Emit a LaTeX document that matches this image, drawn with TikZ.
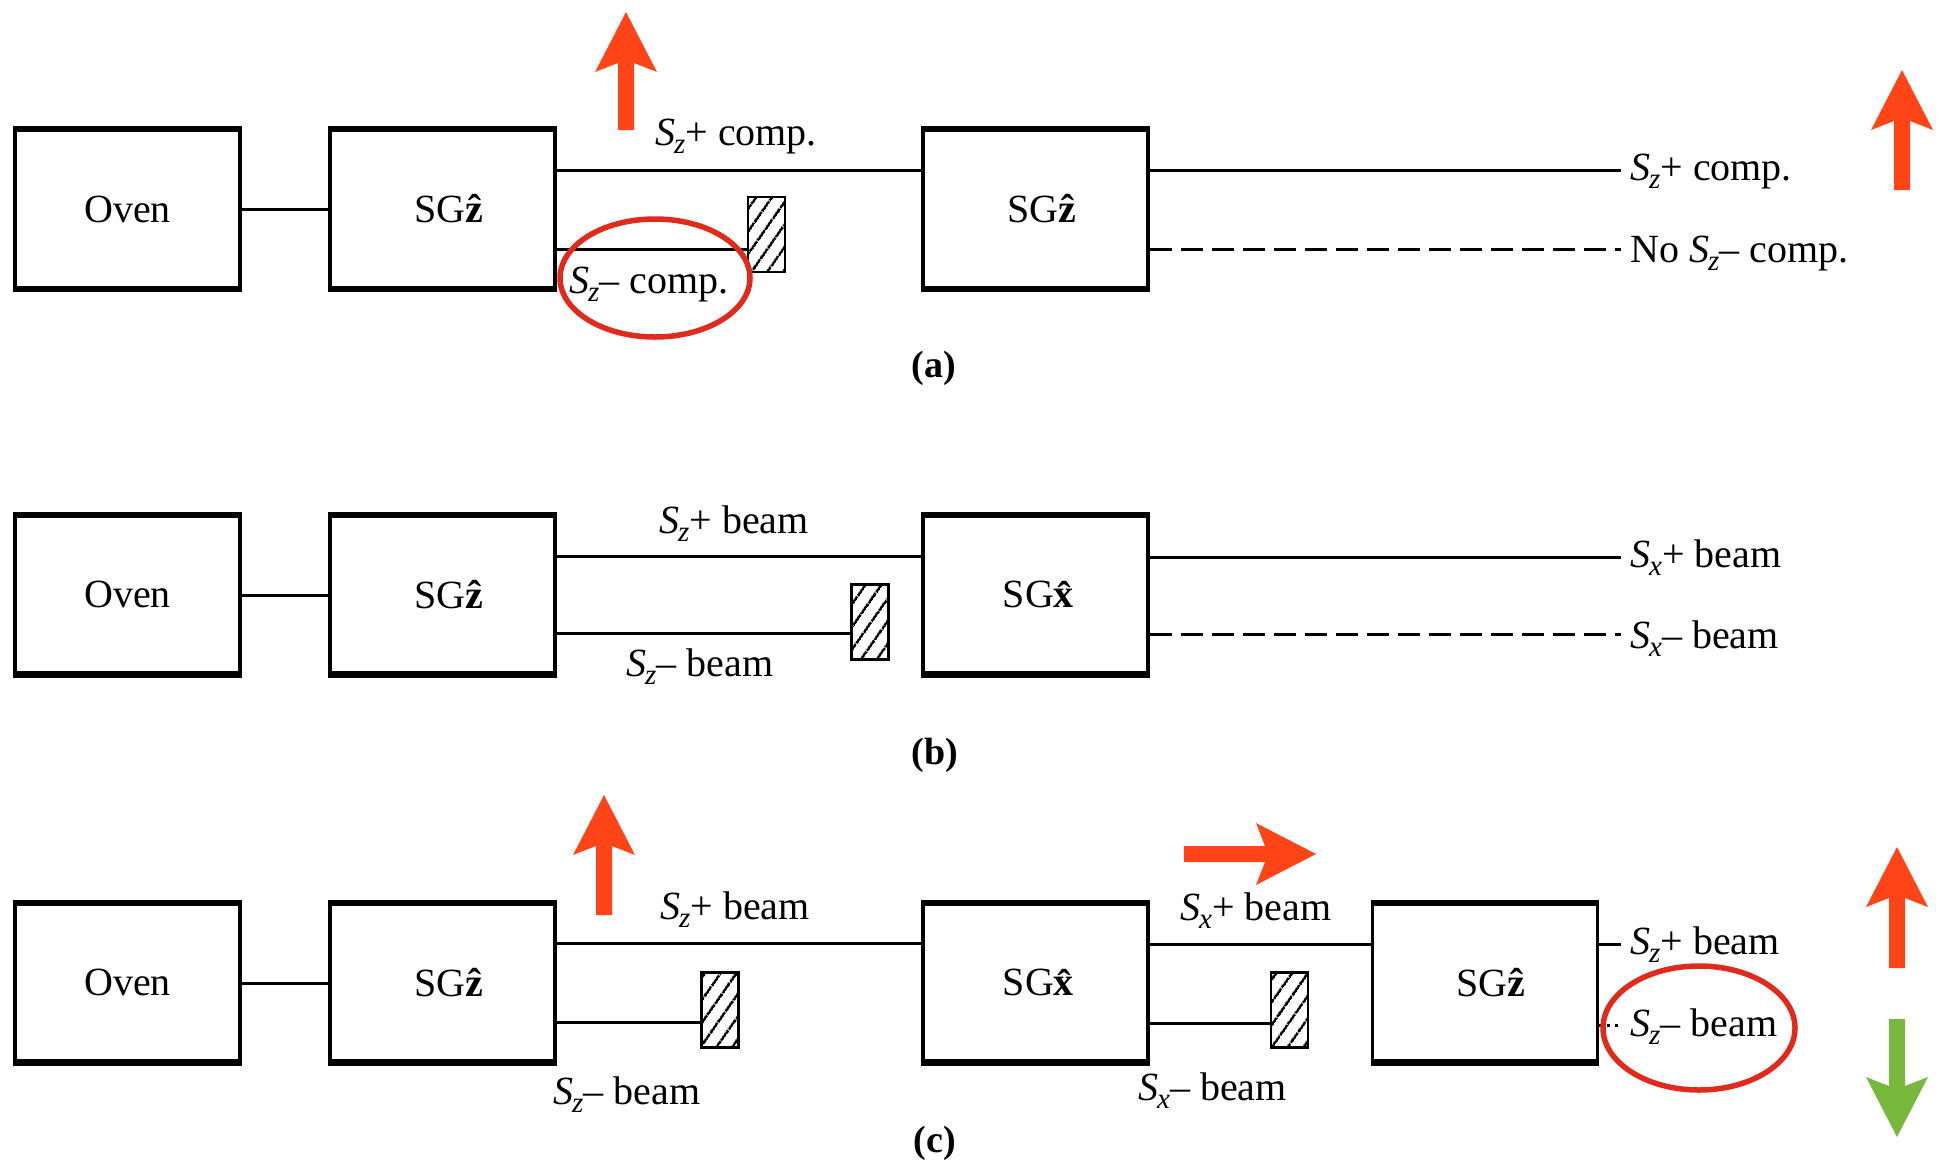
\documentclass[tikz,border=0pt]{standalone}
\usepackage{fontspec}
\setmainfont{Liberation Serif}
\usetikzlibrary{patterns.meta}
\definecolor{arrred}{HTML}{FF4518}
\definecolor{ringred}{HTML}{E02A1C}
\definecolor{arrgreen}{HTML}{78B83C}
\newcommand\spn[1]{\textit{S}\kern-1pt\raisebox{-8pt}{\fontsize{29}{29}\selectfont\textit{#1}}}
\newcommand\sgl[1]{\kern12pt SG\textbf{\^{#1}}}
\newcommand\arrup[4]{% x, tip y, bottom y, colour
  \fill[#4] (#1,#2) -- (#1+31,#2+60) -- (#1+8,#2+51) -- (#1+8,#3) -- (#1-8,#3) -- (#1-8,#2+51) -- (#1-31,#2+60) -- cycle;}
\newcommand\arrdown[4]{% x, tip y, top y, colour
  \fill[#4] (#1,#2) -- (#1+31,#2-60) -- (#1+8,#2-51) -- (#1+8,#3) -- (#1-8,#3) -- (#1-8,#2-51) -- (#1-31,#2-60) -- cycle;}
\tikzset{
  box/.style={draw, line width=3.5pt, minimum width=225pt, minimum height=157pt, inner sep=0pt,
              font=\fontsize{40}{48}\selectfont},
  lab/.style={inner sep=0pt, font=\fontsize{40}{48}\selectfont},
  endlab/.style={inner xsep=9pt, inner ysep=0pt, anchor=base west, font=\fontsize{40}{48}\selectfont},
  capt/.style={inner sep=0pt, anchor=base, font=\fontsize{38}{44}\selectfont\bfseries},
  beam/.style={line width=3pt},
  dbeam/.style={line width=3pt, dash pattern=on 22pt off 9pt},
  blocker/.style={draw, line width=2.5pt, minimum width=37pt, minimum height=75pt, inner sep=0pt,
                  pattern={Lines[angle=55, distance=13pt, line width=2.6pt]}},
  ring/.style={draw=ringred, line width=5.5pt},
}
\begin{document}
\begin{tikzpicture}[x=1pt, y=-1pt]
\useasboundingbox (0,0) rectangle (1940,1163);

% ---------------- row (a)
\node[box] (ovena) at (127.5,209) {Oven};
\node[box] (sg1a) at (442.5,209) {\sgl{z}};
\node[box] (sg2a) at (1035.5,209) {\sgl{z}};
\node[blocker] (bla) at (766.5,234.5) {};
\node[lab, anchor=base west] (la1) at (655,145) {\spn{z}+ comp.};
\node[lab, anchor=base west] (la2) at (569,293) {\spn{z}– comp.};
\node[endlab] (la3) at (1621,180) {\spn{z}+ comp.};
\node[endlab] (la4) at (1621,262) {No \spn{z}– comp.};
\node[capt] (capa) at (934,377) {(a)};
\draw[beam] (ovena.east |- 0,209) -- (sg1a.west |- 0,209);
\draw[beam] (sg1a.east |- 0,170) -- (sg2a.west |- 0,170);
\draw[beam] (sg1a.east |- 0,249) -- (bla.west |- 0,249);
\draw[beam] (sg2a.east |- 0,170) -- (la3.west |- 0,170);
\draw[dbeam] (sg2a.east |- 0,249) -- (la4.west |- 0,249);
\draw[ring] (655,278) ellipse [x radius=95, y radius=59];
\arrup{626}{12}{130}{arrred}
\arrup{1902}{70}{190}{arrred}

% ---------------- row (b)
\node[box] (ovenb) at (127.5,594.5) {Oven};
\node[box] (sg1b) at (442.5,594.5) {\sgl{z}};
\node[box] (sg2b) at (1035.5,594.5) {\sgl{x}};
\node[blocker] (blb) at (870,622) {};
\node[lab, anchor=base west] (lb1) at (659,533) {\spn{z}+ beam};
\node[lab, anchor=base west] (lb2) at (626,676) {\spn{z}– beam};
\node[endlab] (lb3) at (1621,567) {\spn{x}+ beam};
\node[endlab] (lb4) at (1621,648) {\spn{x}– beam};
\node[capt] (capb) at (935,764) {(b)};
\draw[beam] (ovenb.east |- 0,595) -- (sg1b.west |- 0,595);
\draw[beam] (sg1b.east |- 0,556) -- (sg2b.west |- 0,556);
\draw[beam] (sg1b.east |- 0,633) -- (blb.west |- 0,633);
\draw[beam] (sg2b.east |- 0,557) -- (lb3.west |- 0,557);
\draw[dbeam] (sg2b.east |- 0,634) -- (lb4.west |- 0,634);

% ---------------- row (c)
\node[box] (ovenc) at (127.5,982.5) {Oven};
\node[box] (sg1c) at (442.5,982.5) {\sgl{z}};
\node[box] (sg2c) at (1035.5,982.5) {\sgl{x}};
\node[box] (sg3c) at (1485,982.5) {\sgl{z}};
\node[blocker] (blc1) at (720,1010) {};
\node[blocker] (blc2) at (1289.5,1010) {};
\node[lab, anchor=base west] (lc1) at (660,919) {\spn{z}+ beam};
\node[lab, anchor=base west] (lc2) at (553,1104) {\spn{z}– beam};
\node[lab, anchor=base west] (lc3) at (1180,920) {\spn{x}+ beam};
\node[lab, anchor=base west] (lc4) at (1138,1100) {\spn{x}– beam};
\node[endlab] (lc5) at (1621,954) {\spn{z}+ beam};
\node[endlab] (lc6) at (1621,1036) {\spn{z}– beam};
\node[capt] (capc) at (935,1152) {(c)};
\draw[beam] (ovenc.east |- 0,983) -- (sg1c.west |- 0,983);
\draw[beam] (sg1c.east |- 0,943) -- (sg2c.west |- 0,943);
\draw[beam] (sg1c.east |- 0,1022) -- (blc1.west |- 0,1022);
\draw[beam] (sg2c.east |- 0,944) -- (sg3c.west |- 0,944);
\draw[beam] (sg2c.east |- 0,1023) -- (blc2.west |- 0,1023);
\draw[beam] (sg3c.east |- 0,944) -- (lc5.west |- 0,944);
\draw[line width=3pt, dash pattern=on 3pt off 5pt] (sg3c.east |- 0,1025) -- (lc6.west |- 0,1025);
\draw[ring] (1699,1028) ellipse [x radius=96, y radius=62];
\arrup{604}{795}{915}{arrred}
\arrup{1897}{847}{968}{arrred}
\arrdown{1897}{1137}{1019}{arrgreen}
\fill[arrred] (1316,854) -- (1256,823) -- (1265,846) -- (1184,846) -- (1184,862) -- (1265,862) -- (1256,885) -- cycle;

% thicker top and bottom edges of the boxes
\foreach \n in {ovena,sg1a,sg2a,ovenb,sg1b,sg2b,ovenc,sg1c,sg2c,sg3c}
  \draw[line width=5.5pt] (\n.north west) -- (\n.north east) (\n.south west) -- (\n.south east);
\end{tikzpicture}
\end{document}
